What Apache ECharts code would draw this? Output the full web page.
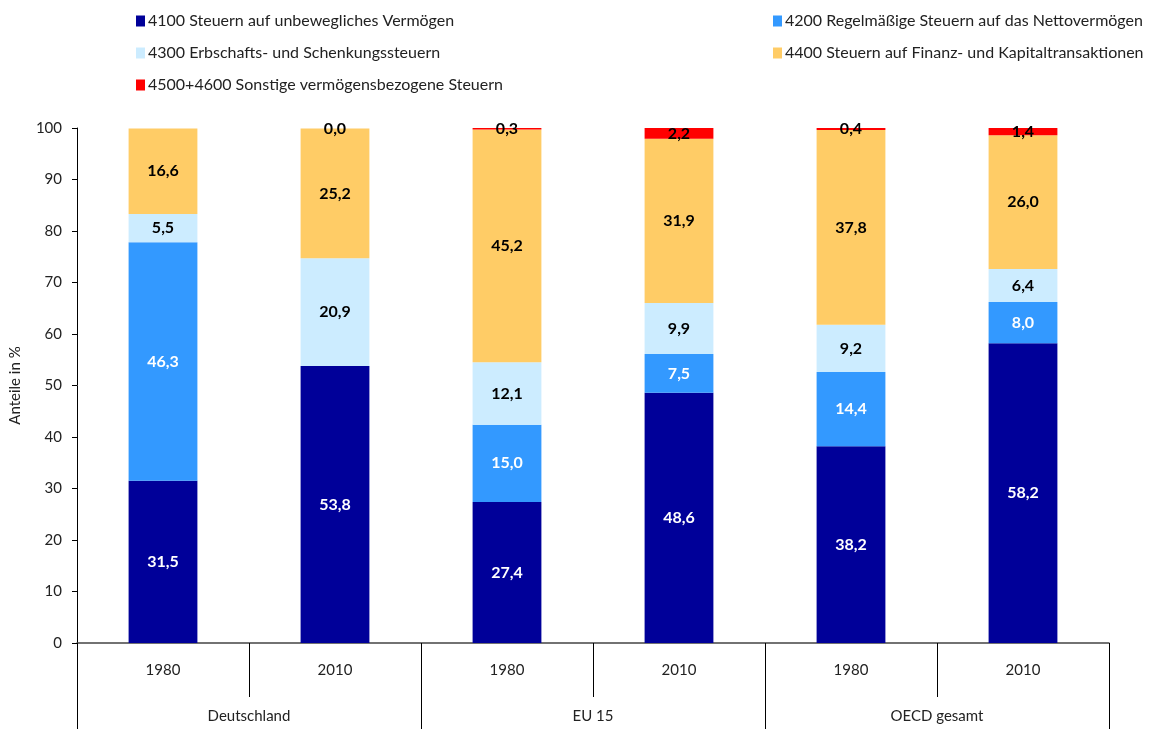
<!DOCTYPE html>
<html>
<head>
<meta charset="utf-8">
<script src="https://cdn.jsdelivr.net/npm/echarts@6/dist/echarts.min.js"></script>
<style>
  html, body { margin: 0; padding: 0; background: #fff; }
  #chart { width: 1155px; height: 729px; }
</style>
</head>
<body>
<div id="chart"></div>
<script>
// Kategorien
var years = ['1980', '2010', '1980', '2010', '1980', '2010'];
var groups = ['Deutschland', 'EU 15', 'OECD gesamt'];
var seriesNames = [
  '4100 Steuern auf unbewegliches Vermögen',
  '4200 Regelmäßige Steuern auf das Nettovermögen',
  '4300 Erbschafts- und Schenkungssteuern',
  '4400 Steuern auf Finanz- und Kapitaltransaktionen',
  '4500+4600 Sonstige vermögensbezogene Steuern'
];
// Anteile in %
var s4100 = [31.5, 53.8, 27.4, 48.6, 38.2, 58.2];
var s4200 = [46.3, null, 15.0, 7.5, 14.4, 8.0];
var s4300 = [5.5, 20.9, 12.1, 9.9, 9.2, 6.4];
var s4400 = [16.6, 25.2, 45.2, 31.9, 37.8, 26.0];
var s4500 = [null, 0.0, 0.3, 2.2, 0.4, 1.4];

var colors = ['#000099', '#3399FF', '#CCECFF', '#FFCC66', '#FF0000'];
var labelColors = ['#fff', '#fff', '#000', '#000', '#000'];
var allData = [s4100, s4200, s4300, s4400, s4500];

var font = 'Lato, "DejaVu Sans", sans-serif';

var myChart = echarts.init(document.getElementById('chart'));

function fmt(p) {
  if (p.value === null || p.value === undefined) return '';
  return p.value.toFixed(1).replace('.', ',');
}

var series = allData.map(function (d, i) {
  return {
    name: seriesNames[i],
    type: 'bar',
    stack: 'total',
    barWidth: '40%',
    data: d,
    itemStyle: { color: colors[i] },
    label: {
      show: true,
      position: 'inside',
      formatter: fmt,
      color: labelColors[i],
      fontFamily: font,
      fontWeight: 'bold',
      fontSize: 16
    }
  };
});

// Legende: je Eintrag eine eigene Position
var legendPos = [
  { left: 131, top: 8 },
  { left: 768, top: 8 },
  { left: 131, top: 40 },
  { left: 768, top: 40 },
  { left: 131, top: 72 }
];
var legends = seriesNames.map(function (n, i) {
  return {
    data: [n],
    left: legendPos[i].left,
    top: legendPos[i].top,
    icon: 'rect',
    itemWidth: 9,
    itemHeight: 11,
    itemGap: 0,
    selectedMode: false,
    textStyle: { fontFamily: font, fontSize: 16, color: '#222', padding: [0, 0, 0, -2] }
  };
});

var option = {
  animation: false,
  backgroundColor: '#fff',
  legend: legends,
  grid: { left: 76, right: 46, top: 128, bottom: 86, containLabel: false },
  xAxis: [
    {
      type: 'category',
      data: years,
      position: 'bottom',
      axisLine: { show: true, lineStyle: { color: '#444', width: 1.5 } },
      axisTick: { show: true, length: 54, lineStyle: { color: '#000' } },
      axisLabel: { margin: 20, fontFamily: font, fontSize: 15, color: '#222' }
    },
    {
      type: 'category',
      data: groups,
      position: 'bottom',
      axisLine: { show: false },
      axisTick: { show: true, length: 90, lineStyle: { color: '#000' } },
      axisLabel: { margin: 66, fontFamily: font, fontSize: 15, color: '#222' }
    }
  ],
  yAxis: {
    type: 'value',
    min: 0,
    max: 100,
    interval: 10,
    name: 'Anteile in %',
    nameLocation: 'middle',
    nameGap: 54,
    nameRotate: 90,
    nameTextStyle: { fontFamily: font, fontSize: 15, color: '#222' },
    splitLine: { show: false },
    axisLine: { show: true, lineStyle: { color: '#000' } },
    axisTick: { show: true, length: 5, lineStyle: { color: '#000' } },
    axisLabel: { margin: 15, fontFamily: font, fontSize: 15, color: '#222' }
  },
  series: series
};

myChart.setOption(option);
</script>
</body>
</html>
